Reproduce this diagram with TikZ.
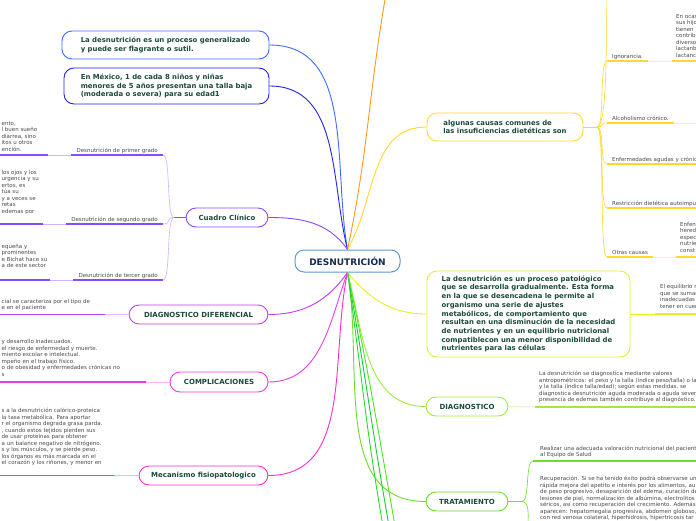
\documentclass[tikz,border=0pt]{standalone}
\usepackage{fontspec}
\setmainfont{DejaVu Sans}
\usepackage{tikz}
\usetikzlibrary{positioning,calc}

\definecolor{rootblue}{HTML}{5B9BD5}
\definecolor{rootnavy}{HTML}{172B4D}
\definecolor{topictext}{HTML}{1B4A3A}
\definecolor{leafgray}{HTML}{4A4A4A}
\definecolor{blueA}{HTML}{3F6BFF}
\definecolor{blueB}{HTML}{2323E6}
\definecolor{orangeA}{HTML}{FF9A1A}
\definecolor{yellowA}{HTML}{FFDA2A}
\definecolor{yellowP}{HTML}{FFF0B0}
\definecolor{limeA}{HTML}{E6F02A}
\definecolor{greenA}{HTML}{9CEE3A}
\definecolor{greenAP}{HTML}{DDF8C0}
\definecolor{greenB}{HTML}{6EDC2E}
\definecolor{greenC}{HTML}{2FD62F}
\definecolor{greenD}{HTML}{12CC3C}
\definecolor{greenE}{HTML}{4CE81A}
\definecolor{purpleA}{HTML}{8A4BFF}
\definecolor{purpleP}{HTML}{CDB5FF}
\definecolor{violetA}{HTML}{C23CF0}
\definecolor{violetP}{HTML}{EBB8F8}
\definecolor{magA}{HTML}{EE3CE0}
\definecolor{magP}{HTML}{F8B8F2}
\definecolor{pinkA}{HTML}{FF2DCB}
\definecolor{pinkP}{HTML}{FFB3E8}

\begin{document}
\begin{tikzpicture}[x=1pt, y=-1pt,
  rootbox/.style={draw=rootblue, line width=1pt, rounded corners=9pt, fill=white, text=rootnavy, font=\fontsize{9}{11}\selectfont\bfseries, minimum width=105pt, minimum height=22pt, inner sep=0pt},
  topicbox/.style={line width=0.9pt, rounded corners=10pt, fill=white, text=topictext, font=\fontsize{6.9}{8.7}\selectfont\bfseries, align=left, inner sep=0pt},
  capbox/.style={topicbox, align=center, font=\fontsize{7}{8.5}\selectfont\bfseries, minimum height=19pt},
  lbl/.style={text=leafgray, font=\fontsize{5.5}{6.5}\selectfont, inner xsep=5pt, inner ysep=1.3pt, text depth=1.4pt},
  para/.style={text=leafgray, font=\fontsize{5.5}{6.5}\selectfont, align=left, inner xsep=2.5pt, anchor=south west},
  branch/.style={line width=0.9pt},
  twig/.style={line width=0.6pt},
  uline/.style={line width=1.6pt},
  pale/.style={line width=1pt}
]
\useasboundingbox (0,0) rectangle (696,520);
\clip (0,0) rectangle (696,520);
\fill[white] (0,0) rectangle (696,520);

% central topic and main topics
\node[rootbox] (root) at (347.5,261) {DESNUTRICIÓN};
\node[topicbox, draw=blueA, minimum width=207pt, minimum height=28pt] (gen) at (165.5,45) {La desnutrición es un proceso generalizado\\y puede ser flagrante o sutil.};
\node[topicbox, draw=blueB, minimum width=205pt, minimum height=36pt] (mex) at (166.5,86) {En México, 1 de cada 8 niños y niñas\\menores de 5 años presentan una talla baja\\(moderada o severa) para su edad1};
\node[topicbox, draw=yellowA, minimum width=156pt, minimum height=28pt] (causas) at (505,127) {algunas causas comunes de\\las insuficiencias dietéticas son};
\node[topicbox, draw=limeA, minimum width=203pt, minimum height=86pt] (pato) at (528.5,314) {La desnutrición es un proceso patológico\\que se desarrolla gradualmente. Esta forma\\en la que se desencadena le permite al\\organismo una serie de ajustes\\metabólicos, de comportamiento que\\resultan en una disminución de la necesidad\\de nutrientes y en un equilibrio nutricional\\compatiblecon una menor disponibilidad de\\nutrientes para las células};
\node[capbox, draw=greenA, minimum width=82pt] (diag) at (467,406.5) {DIAGNOSTICO};
\node[capbox, draw=greenB, minimum width=82pt] (trat) at (467,501.5) {TRATAMIENTO};
\node[capbox, draw=purpleA, minimum width=82pt] (cuadro) at (227,217.5) {Cuadro Clínico};
\node[capbox, draw=violetA, minimum width=139pt] (ddif) at (198.5,314.5) {DIAGNOSTICO DIFERENCIAL};
\node[capbox, draw=magA, minimum width=98pt, minimum height=20pt] (compl) at (219,382) {COMPLICACIONES};
\node[capbox, draw=pinkA, minimum width=129pt] (meca) at (203.5,475.5) {Mecanismo fisiopatologico};

% branches leaving the picture
\coordinate (orangeUp) at (386,-6);
\coordinate (greenDown1) at (383,526);
\coordinate (greenDown2) at (389,526);
\coordinate (greenDown3) at (395,526);

\draw[branch, blueA] (root.north) to[out=100,in=0] (gen.east);
\draw[branch, blueB] (root.north) to[out=104,in=0] (mex.east);
\draw[branch, orangeA] (root.north) to[out=78,in=-100] (orangeUp);
\draw[branch, yellowA] (root.north) to[out=60,in=180] (causas.west);
\draw[branch, purpleA] (root.north) to[out=125,in=0] (cuadro.east);
\draw[branch, violetA] (root.south) to[out=-125,in=0] (ddif.east);
\draw[branch, magA] (root.south) to[out=-110,in=0] (compl.east);
\draw[branch, pinkA] (root.south) to[out=-102,in=0] (meca.east);
\draw[branch, limeA] (root.south) to[out=-50,in=180] (pato.west);
\draw[branch, greenA] (root.south) to[out=-75,in=180] (diag.west);
\draw[branch, greenB] (root.south) to[out=-80,in=180] (trat.west);
\draw[branch, greenC] (root.south) to[out=-82,in=100] (greenDown1);
\draw[branch, greenD] (root.south) to[out=-80,in=100] (greenDown2);
\draw[branch, greenE] (root.south) to[out=-78,in=100] (greenDown3);

% causas
\coordinate (causasHub) at (597,127);
\coordinate (causasUp) at (606,-6);
\node[lbl, anchor=south west] (ign) at (607,61) {Ignorancia.};
\node[para, inner xsep=4pt, inner ysep=3.5pt] (ignT) at (672,61) {En ocas\\sus hijo\\tienen\\contrib\\diverso\\lactanb\\lactanc};
\node[lbl, anchor=south west] (alc) at (607,123) {Alcoholismo crónico.};
\node[lbl, anchor=south west] (enf) at (607,164) {Enfermedades agudas y crónicas};
\node[lbl, anchor=south west] (res) at (607,208) {Restricción dietética autoimpuesta};
\node[lbl, anchor=south west] (otr) at (607,257) {Otras causas};
\node[para, inner xsep=4pt, inner ysep=4.5pt] (otrT) at (676,257) {Enfen\\hered\\espec\\nutrie\\const};

\draw[branch, yellowA] (causas.east) -- (causasHub);
\draw[twig, yellowA] (causasHub) to[out=0,in=-90,distance=12pt] (causasUp);
\draw[twig, yellowA] (causasHub) to[out=0,in=180,distance=8pt] (ign.south west);
\draw[twig, yellowA] (causasHub) to[out=0,in=180,distance=8pt] (alc.south west);
\draw[twig, yellowA] (causasHub) to[out=0,in=180,distance=8pt] (enf.south west);
\draw[twig, yellowA] (causasHub) to[out=0,in=180,distance=8pt] (res.south west);
\draw[twig, yellowA] (causasHub) to[out=0,in=180,distance=8pt] (otr.south west);
\draw[uline, yellowA] (ign.south west) -- (ign.south east);
\draw[pale, yellowP] (ign.south east) -- (ignT.south west);
\draw[uline, yellowA] (ignT.south west) -- ++(40,0);
\draw[uline, yellowA] (alc.south west) -- (alc.south east);
\draw[pale, yellowP] (alc.south east) -- ++(40,0);
\draw[uline, yellowA] (enf.south west) -- ++(95,0);
\draw[uline, yellowA] (res.south west) -- ++(95,0);
\draw[uline, yellowA] (otr.south west) -- (otr.south east);
\draw[pale, yellowP] (otr.south east) -- (otrT.south west);
\draw[uline, yellowA] (otrT.south west) -- ++(40,0);

% proceso patologico
\node[para, inner xsep=5pt, inner ysep=5.5pt] (patoT) at (655,314) {El equilibrio n\\que se suman\\inadecuadas\\tener en cuen};
\draw[twig, limeA] (pato.east) -- (patoT.south west);
\draw[uline, limeA] (patoT.south west) -- ++(45,0);

% diagnostico
\node[para, inner xsep=4pt, inner ysep=4pt] (diagT) at (535,407) {La desnutrición se diagnostica mediante valores\\antropométricos: el peso y la talla (índice peso/talla) o la\\y la talla (índice talla/edad); según estas medidas, se\\diagnostica desnutrición aguda moderada o aguda severa\\presencia de edemas también contribuye al diagnóstico.};
\draw[pale, greenAP] (diag.east) -- (diagT.south west);
\draw[uline, greenA] (diagT.south west) -- ++(165,0);

% tratamiento
\coordinate (tratHub) at (522,501.5);
\coordinate (tratDown) at (528,526);
\node[para, inner xsep=7pt, inner ysep=3pt] (realT) at (533,461) {Realizar una adecuada valoración nutricional del paciente\\al Equipo de Salud};
\node[para, anchor=north west, inner xsep=0pt] (recT) at (540,473) {Recuperación. Si se ha tenido éxito podrá observarse una\\rápida mejora del apetito e interés por los alimentos, au\\de peso progresivo, desaparición del edema, curación de\\lesiones de piel, normalización de albúmina, electrolitos\\séricos, así como recuperación del crecimiento. Además\\aparecen: hepatomegalia progresiva, abdomen globoso,\\con red venosa colateral, hiperhidrosis, hipertricosis tar};
\draw[branch, greenB] (trat.east) -- (tratHub);
\draw[twig, greenB] (tratHub) to[out=0,in=180,distance=8pt] (realT.south west);
\draw[twig, greenB] (tratHub) to[out=0,in=90,distance=8pt] (tratDown);
\draw[uline, greenB] (realT.south west) -- ++(165,0);

% cuadro clinico
\coordinate (cuadroHub) at (174,217.5);
\node[lbl, anchor=south east] (primer) at (163,155) {Desnutrición de primer grado};
\node[lbl, anchor=south east] (segundo) at (163,224) {Desnutrición de segundo grado};
\node[lbl, anchor=south east] (tercer) at (163,280) {Desnutrición de tercer grado};
\node[para, inner ysep=3.5pt] (primerT) at (-1,155) {ento,\\l buen sueño\\diarrea, sino\\itos u otros\\ención.};
\node[para, inner ysep=9.6pt] (segundoT) at (-1,224) {los ojos y los\\urgencia y su\\ertos, es\\túa su\\y a veces se\\retas\\edemas por};
\node[para, inner ysep=12pt] (tercerT) at (-1,280) {equeña y\\prominentes\\e Bichat hace su\\a de este sector};

\draw[branch, purpleA] (cuadro.west) -- (cuadroHub);
\draw[twig, purpleP] (cuadroHub) to[out=180,in=0,distance=8pt] (primer.south east);
\draw[twig, purpleP] (cuadroHub) to[out=180,in=0,distance=8pt] (segundo.south east);
\draw[twig, purpleP] (cuadroHub) to[out=180,in=0,distance=8pt] (tercer.south east);
\draw[uline, purpleA] (primer.south east) -- (primer.south west);
\draw[pale, purpleP] (primer.south west) -- ($(primerT.south west)+(49,0)$);
\draw[uline, purpleA] ($(primerT.south west)+(49,0)$) -- (primerT.south west);
\draw[uline, purpleA] (segundo.south east) -- (segundo.south west);
\draw[pale, purpleP] (segundo.south west) -- ($(segundoT.south west)+(44,0)$);
\draw[uline, purpleA] ($(segundoT.south west)+(44,0)$) -- (segundoT.south west);
\draw[uline, purpleA] (tercer.south east) -- (tercer.south west);
\draw[pale, purpleP] (tercer.south west) -- ($(tercerT.south west)+(51,0)$);
\draw[uline, purpleA] ($(tercerT.south west)+(51,0)$) -- (tercerT.south west);

% diagnostico diferencial
\node[para, inner ysep=3.6pt] (ddifT) at (-1,314.5) {cial se caracteriza por el tipo de\\e en el paciente};
\draw[pale, violetP] (ddif.west) -- ($(ddifT.south west)+(106,0)$);
\draw[uline, violetA] ($(ddifT.south west)+(106,0)$) -- (ddifT.south west);

% complicaciones
\node[para, inner ysep=5.5pt] (complT) at (-1,382) {y desarrollo inadecuados.\\el riesgo de enfermedad y muerte.\\miento escolar e intelectual.\\mpeño en el trabajo físico.\\o de obesidad y enfermedades crónicas no\\s};
\draw[pale, magP] (compl.west) -- ($(complT.south west)+(147,0)$);
\draw[uline, magA] ($(complT.south west)+(147,0)$) -- (complT.south west);

% mecanismo fisiopatologico
\node[para, inner ysep=9.6pt] (mecaT) at (-1,475.5) {s a la desnutrición calórico-proteica\\la tasa metabólica. Para aportar\\r el organismo degrada grasa parda.\\, cuando estos tejidos pierden sus\\de usar proteínas para obtener\\a un balance negativo de nitrógeno.\\s y los músculos, y se pierde peso.\\los órganos es más marcada en el\\el corazón y los riñones, y menor en};
\draw[pale, pinkP] (meca.west) -- ($(mecaT.south west)+(115,0)$);
\draw[uline, pinkA] ($(mecaT.south west)+(115,0)$) -- (mecaT.south west);
\end{tikzpicture}
\end{document}
